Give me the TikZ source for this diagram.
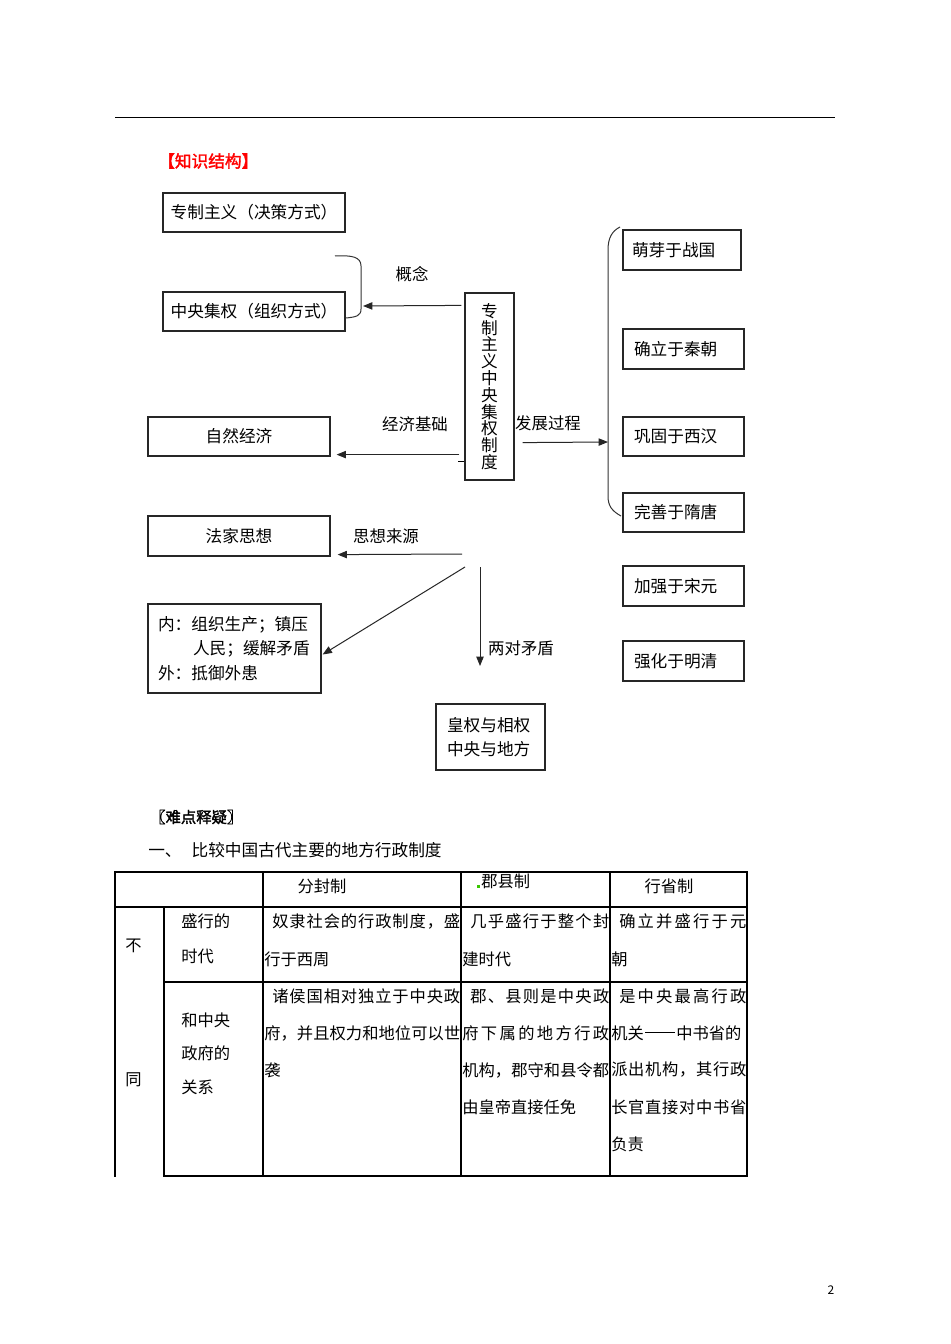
\documentclass[tikz,border=0pt]{standalone}
\usepackage{fontspec}
\setmainfont{Noto Sans CJK SC}[AutoFakeBold=2]
\usetikzlibrary{arrows.meta,calc}
\def\spreadchars#1{\spreadA#1\relax}
\def\spreadA#1#2{#1\ifx\relax#2\else\hfil\expandafter\spreadA\expandafter#2\fi}
\newcommand\jline[2]{\hbox to #1{\spreadchars{#2}}}
\tikzset{
  box/.style={draw=black!85, line width=0.9pt, inner sep=0pt, font=\fontsize{12.5}{14}\selectfont},
  rbox/.style={box, align=left, inner xsep=8.25pt, text width=74.25pt, minimum height=30pt},
  lbl/.style={font=\fontsize{12.3}{14}\selectfont, inner sep=0pt},
  arr/.style={-{Triangle[length=7pt,width=5.5pt]}, line width=0.75pt, draw=black!85},
  brace/.style={line width=0.75pt, draw=black!80},
  tx/.style={font=\fontsize{12.2}{14}\selectfont, inner sep=0pt, anchor=west},
  grid/.style={line width=1.4pt, line cap=rect}
}
\begin{document}
\begin{tikzpicture}[x=0.75pt,y=-0.75pt]
\useasboundingbox[fill=white] (0,0) rectangle (950,1344);
% top rule
\draw[line width=0.75pt] (115,118) -- (835,118);
\node[anchor=west, text=red, font=\bfseries\fontsize{12.5}{14}\selectfont, inner sep=0pt] (kh) at (158,161) {【知识结构】};

% left boxes
\node[box, minimum width=136.5pt, minimum height=29.25pt] (zz) at (254,212.5) {专制主义（决策方式）};
\node[box, minimum width=136.5pt, minimum height=29.25pt] (zy) at (254,311.5) {中央集权（组织方式）};
\node[box, minimum width=136.5pt, minimum height=29.25pt] (ziran) at (239,436.5) {自然经济};
\node[box, minimum width=136.5pt, minimum height=30pt] (fajia) at (239,536) {法家思想};
\node[box, align=left, inner xsep=7.5pt, text width=114.75pt, minimum height=66.75pt, font=\fontsize{12.5}{18.4}\selectfont] (nei) at (234.5,648.5)
  {内：组织生产；镇压\\\hspace*{2.1em}人民；缓解矛盾\\外：抵御外患};
\node[box, align=left, inner xsep=8.25pt, text width=65.25pt, minimum height=49.5pt, font=\fontsize{12.5}{18}\selectfont] (huang) at (490.5,737)
  {皇权与相权\\中央与地方};

% central vertical box
\node[box, minimum width=36.75pt, minimum height=140.25pt, align=center, text width=12.5pt, font=\fontsize{12.5}{12.6}\selectfont] (c) at (489.5,386.5)
  {专\\制\\主\\义\\中\\央\\集\\权\\制\\度};

% right boxes
\node[rbox, inner xsep=6.75pt, text width=75pt] (r1) at (682,250) {萌芽于战国};
\node[rbox] (r2) at (683.5,349) {确立于秦朝};
\node[rbox, minimum height=29.25pt] (r3) at (683.5,436.5) {巩固于西汉};
\node[rbox, minimum height=29.25pt] (r4) at (683.5,512.5) {完善于隋唐};
\node[rbox] (r5) at (683.5,586) {加强于宋元};
\node[rbox] (r6) at (683.5,661) {强化于明清};

% braces
\draw[brace] (335,256) .. controls (352,255) and (361,257) .. (361,266) -- (361,309) .. controls (361,316) and (356,317) .. (346,318);
\coordinate (brtip) at (363,306);
\draw[brace] (620,227) .. controls (612,231) and (608,238) .. (608,250) -- (608,496) .. controls (608,506) and (612,511) .. (621,516);
\coordinate (bigtip) at (608,442);

% connectors
\draw[arr] ($(c.north west)+(-3,13)$) -- (brtip);
\draw[arr] ($(c.south west)+(-5,-26)$) -- ($(ziran.south east)+(6,-2)$);
\draw[line width=0.75pt] ($(c.south west)+(-6,-19)$) -- ($(c.south west)+(0,-19)$);
\draw[arr] ($(c.south east)+(8,-38)$) -- (bigtip);
\coordinate (o1) at (462,554);
\coordinate (o2) at (465,567);
\coordinate (o3) at (480,567);
\coordinate (o3e) at (480,666);
\draw[arr] (o1) -- ($(fajia.south east)+(7,-2)$);
\draw[arr] (o2) -- ($(nei.east)+(1,6)$);
\draw[arr] (o3) -- (o3e);

% labels
\node[lbl] (l1) at (412,274) {概念};
\node[lbl] (l2) at (415,424) {经济基础};
\node[lbl] (l3) at (548,423) {发展过程};
\node[lbl] (l4) at (386,536) {思想来源};
\node[lbl] (l5) at (521,648) {两对矛盾};

% second section
\node[anchor=west, font=\bfseries\fontsize{11.5}{14}\selectfont, inner sep=0pt] (nd) at (150,817) {〖难点释疑〗};
\node[tx, font=\fontsize{12.5}{14}\selectfont] (t1) at (148,850) {一、\hspace{7.5pt}比较中国古代主要的地方行政制度};

% table grid
\draw[grid] (115,1176) -- (115,872) -- (747,872) -- (747,1176) -- (164,1176);
\draw[grid] (115,907) -- (747,907);
\draw[grid] (164,982) -- (747,982);
\draw[grid] (164,907) -- (164,1176);
\draw[grid] (263,872) -- (263,1176);
\draw[grid] (461,872) -- (461,1176);
\draw[grid] (610,872) -- (610,1176);

% table header
\node[tx, anchor=center] (h1) at (322,886) {分封制};
\node[tx] (h2) at (481,881) {郡县制};
\fill[green!55!olive] (477,885) rectangle (480,888);
\node[tx, anchor=center] (h3) at (669,886) {行省制};

% left column
\node[tx] (bu) at (125,946) {不};
\node[tx] (tong) at (125,1080) {同};
\node[tx] (a1) at (181,921) {盛行的};
\node[tx] (a2) at (181,956) {时代};
\node[tx] (b1) at (181,1020) {和中央};
\node[tx] (b2) at (181,1053) {政府的};
\node[tx] (b3) at (181,1087) {关系};

% row 2
\node[tx] (c3a) at (272,921) {\jline{141pt}{奴隶社会的行政制度，盛}};
\node[tx] (c3b) at (264,959) {行于西周};
\node[tx] (c4a) at (470,921) {\jline{104.25pt}{几乎盛行于整个封}};
\node[tx] (c4b) at (462,959) {建时代};
\node[tx] (c5a) at (619,921) {\jline{95.25pt}{确立并盛行于元}};
\node[tx] (c5b) at (611,959) {朝};

% row 3
\node[tx] (d3a) at (272,996) {\jline{141pt}{诸侯国相对独立于中央政}};
\node[tx] (d3b) at (264,1033) {\jline{147pt}{府，并且权力和地位可以世}};
\node[tx] (d3c) at (264,1070) {袭};
\node[tx] (d4a) at (470,996) {\jline{104.25pt}{郡、县则是中央政}};
\node[tx] (d4b) at (462,1033) {\jline{110.25pt}{府下属的地方行政}};
\node[tx] (d4c) at (462,1070) {\jline{110.25pt}{机构，郡守和县令都}};
\node[tx] (d4d) at (462,1107) {由皇帝直接任免};
\node[tx] (d5a) at (619,996) {\jline{95.25pt}{是中央最高行政}};
\node[tx] (d5b) at (611,1033) {机关\hspace{0.1em}\rule[0.36em]{1.8em}{0.055em}\hspace{0.1em}中书省的};
\node[tx] (d5c) at (611,1070) {\jline{101.25pt}{派出机构，其行政}};
\node[tx] (d5d) at (611,1107) {\jline{101.25pt}{长官直接对中书省}};
\node[tx] (d5e) at (611,1144) {负责};

\node[font=\fontsize{9}{10}\selectfont, inner sep=0pt] (pg) at (831,1290) {2};
\end{tikzpicture}
\end{document}
